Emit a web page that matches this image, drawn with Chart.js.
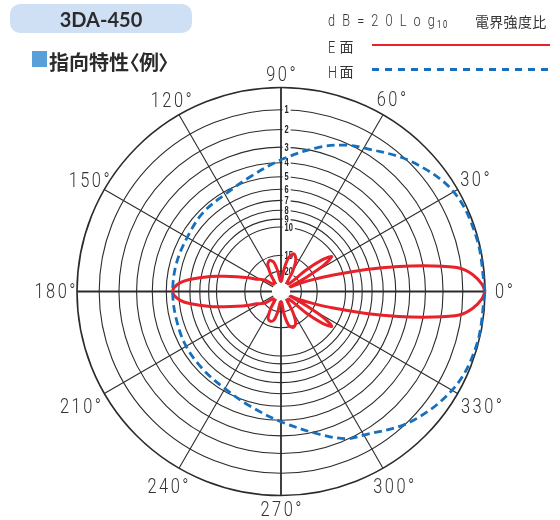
<!DOCTYPE html>
<html lang="ja">
<head>
<meta charset="utf-8">
<title>3DA-450 指向特性</title>
<script src="https://cdn.jsdelivr.net/npm/chart.js@4.4.1/dist/chart.umd.min.js"></script>
<style>
  html, body { margin: 0; padding: 0; background: #fff; }
  body { width: 560px; height: 520px; position: relative; overflow: hidden; }
  #chart { position: absolute; left: 0; top: 0; }
  .model {
    position: absolute; left: 10px; top: 4px; width: 182px; height: 29px;
    border-radius: 10px; background: #cfe0f5; color: #2b2b2b;
    font: 700 20px Lato, "Noto Sans", sans-serif;
    display: flex; align-items: center; justify-content: center;
  }
  .mark { position: absolute; left: 31.5px; top: 50.5px; width: 15px; height: 16px; background: #5b9fd9; }
  .heading {
    position: absolute; left: 49px; top: 47.3px; line-height: 20px; white-space: nowrap;
    font: 700 20px "Noto Sans CJK JP", sans-serif; color: #2b2b2b;
    font-feature-settings: "palt";
  }
  .lat {
    position: absolute; white-space: nowrap; color: #333;
    font: 300 17px Roboto, sans-serif; line-height: 17px;
    transform: scaleX(0.75); transform-origin: 0 0;
  }
  .cjk {
    position: absolute; white-space: nowrap; color: #333;
    font: 400 14px "Noto Sans CJK JP", sans-serif; line-height: 14px;
  }
  .swatch { position: absolute; left: 372px; width: 178px; }
</style>
</head>
<body>
<canvas id="chart" width="560" height="520"></canvas>

<div class="model">3DA-450</div>
<div class="mark"></div>
<div class="heading">指向特性〈例〉</div>

<div class="lat" style="left:328px; top:12.4px; letter-spacing:9.5px;">dB=20Log</div>
<div class="lat" style="left:436.5px; top:19.5px; font-size:10px; line-height:10px; letter-spacing:2.5px; font-weight:400;">10</div>
<div class="cjk" style="left:475px; top:13.6px; letter-spacing:0.3px;">電界強度比</div>

<div class="lat" style="left:328px; top:38.7px;">E</div>
<div class="cjk" style="left:339.5px; top:38.9px;">面</div>
<div class="swatch" style="top:43.5px; height:2.6px; background:#e8212b;"></div>

<div class="lat" style="left:328px; top:63.7px;">H</div>
<div class="cjk" style="left:339.5px; top:63.9px;">面</div>
<div class="swatch" style="top:68px; height:2.8px; background:repeating-linear-gradient(to right, #1670bd 0 7px, transparent 7px 13px);"></div>

<script>
// E-plane pattern: angle (deg, counter-clockwise from 0°) and level (dB below maximum)
const eAngle = [0, 2, 5, 7.5, 9.5, 12, 14.5, 17.5, 20.5, 23.5, 26,
  29, 31.5, 34.5, 37.5, 40.5, 44,
  55, 60, 65, 71, 77, 82, 87,
  94, 99, 104, 110, 116, 121, 127,
  138, 144, 148, 153, 157, 161.5, 165, 168, 172.5, 175, 178, 180,
  182, 185, 187.5, 192, 195, 198.5, 203, 207, 212, 216, 222,
  233, 239, 244, 250, 256, 261, 266,
  273, 278, 283, 289, 295, 300, 305,
  316, 319.5, 322.5, 325.5, 328.5, 331, 334,
  336.5, 339.5, 342.5, 345.5, 348, 350.5, 352.5, 355, 358, 360];
const eDb = [0, 0.12, 0.5, 1.1, 2.4, 4.6, 7.3, 11.4, 15.6, 20.2, 25.5,
  17.5, 12.3, 10.4, 11.9, 15.8, 25.5,
  25.5, 18.8, 15.3, 14.2, 15.3, 18.8, 25.5,
  25.5, 20, 16.6, 15.8, 16.6, 20, 25.5,
  25.5, 20.5, 19, 17.5, 15.3, 12.8, 10.8, 9.0, 6.9, 6.1, 5.6, 5.5,
  5.6, 6.1, 6.9, 9.0, 10.8, 12.8, 15.3, 17.5, 19, 20.5, 25.5,
  25.5, 20, 16.8, 16.2, 16.8, 20, 25.5,
  25.5, 18.8, 15.4, 14.6, 15.4, 18.8, 25.5,
  25.5, 15.8, 11.9, 10.4, 12.3, 17.5, 25.5,
  20.2, 15.6, 11.4, 7.3, 4.6, 2.4, 1.1, 0.5, 0.12, 0];

// H-plane pattern
const hAngle = [0, 15, 30, 45, 60, 66, 75, 90, 105, 120, 135, 150, 165, 180,
  195, 210, 225, 240, 255, 270, 285, 294, 300, 315, 331, 345, 360];
const hDb = [0, 0.05, 0.2, 0.9, 1.8, 2.1, 2.7, 3.8, 4.7, 5.2, 5.3, 5.5, 5.5, 5.5,
  5.5, 5.4, 5.35, 5.2, 4.7, 3.9, 2.8, 2.05, 1.8, 0.9, 0.25, 0.05, 0];

// Radial grid rings (dB) with their tick labels, and the angular grid
const ringDb = [1, 2, 3, 4, 5, 6, 7, 8, 9, 10, 15, 20];
const ringLabels = ['1', '2', '3', '4', '5', '6', '7', '8', '9', '10', '15', '20'];
const spokeAngles = [0, 30, 60, 90, 120, 150, 180, 210, 240, 270, 300, 330];
const angleLabels = ['0°', '30°', '60°', '90°', '120°', '150°', '180°', '210°', '240°', '270°', '300°', '330°'];
const centreDb = 27;

// gap between the outer ring and each angle label centre (px)
const angleLabelGap = [19, 20, 17, 12.5, 15.5, 17.5, 22, 27.5, 22, 14.5, 21.5, 27.5];

const RED = '#e8212b';
const BLUE = '#1670bd';
const GRID = '#2b2b2b';

// dB -> field strength ratio (dB = 20 log10 ratio)
const ratio = db => Math.pow(10, -db / 20);
const toXY = (angles, dbs) => angles.map((a, i) => {
  const r = ratio(dbs[i]);
  const t = a * Math.PI / 180;
  return { x: r * Math.cos(t), y: r * Math.sin(t) };
});

const polarGrid = {
  id: 'polarGrid',
  beforeDatasetsDraw(chart) {
    const { ctx, scales: { x, y } } = chart;
    const cx = x.getPixelForValue(0);
    const cy = y.getPixelForValue(0);
    const rad = v => x.getPixelForValue(v) - cx;
    const R = rad(1);
    ctx.save();
    ctx.strokeStyle = GRID;

    ctx.lineWidth = 1.1;
    ringDb.forEach(db => {
      ctx.beginPath();
      ctx.arc(cx, cy, rad(ratio(db)), 0, Math.PI * 2);
      ctx.stroke();
    });
    ctx.lineWidth = 1.6;
    ctx.beginPath();
    ctx.arc(cx, cy, R, 0, Math.PI * 2);
    ctx.stroke();

    spokeAngles.forEach(a => {
      const t = a * Math.PI / 180;
      ctx.lineWidth = a % 90 === 0 ? 1.8 : 1.1;
      ctx.beginPath();
      ctx.moveTo(cx, cy);
      ctx.lineTo(cx + R * Math.cos(t), cy - R * Math.sin(t));
      ctx.stroke();
    });

    // ring values along the 90° axis
    ctx.font = '700 11px "Liberation Sans", Arial, sans-serif';
    ctx.textBaseline = 'middle';
    ctx.textAlign = 'left';
    ringDb.forEach((db, i) => {
      const py = cy - rad(ratio(db));
      const w = ctx.measureText(ringLabels[i]).width * 0.68;
      ctx.fillStyle = '#fff';
      ctx.fillRect(cx + 1.5, py - 4.5, w + 4, 9);
      ctx.save();
      ctx.translate(cx + 3.5, py + 0.5);
      ctx.scale(0.68, 1);
      ctx.fillStyle = '#222';
      ctx.fillText(ringLabels[i], 0, 0);
      ctx.restore();
    });

    ctx.fillStyle = '#fff';
    ctx.beginPath();
    ctx.arc(cx, cy, rad(ratio(centreDb)), 0, Math.PI * 2);
    ctx.fill();
    ctx.restore();
  },
  afterDraw(chart) {
    const { ctx, scales: { x, y } } = chart;
    const cx = x.getPixelForValue(0);
    const cy = y.getPixelForValue(0);
    const R = x.getPixelForValue(1) - cx;
    ctx.save();
    ctx.fillStyle = '#333';
    ctx.font = '300 20px Roboto, sans-serif';
    ctx.textAlign = 'center';
    ctx.textBaseline = 'middle';
    if ('letterSpacing' in ctx) ctx.letterSpacing = '3px';
    spokeAngles.forEach((a, i) => {
      const t = a * Math.PI / 180;
      const d = R + angleLabelGap[i];
      ctx.save();
      ctx.translate(cx + d * Math.cos(t) + 1.2, cy - d * Math.sin(t) + 1);
      ctx.scale(0.82, 1);
      ctx.fillText(angleLabels[i], 0, 0);
      ctx.restore();
    });
    ctx.restore();
  }
};

new Chart(document.getElementById('chart'), {
  type: 'scatter',
  data: {
    datasets: [
      {
        label: 'H面', data: toXY(hAngle, hDb), showLine: true,
        borderColor: BLUE, borderWidth: 2.8, borderDash: [8, 4.5],
        pointRadius: 0, tension: 0.35, fill: false, clip: false
      },
      {
        label: 'E面', data: toXY(eAngle, eDb), showLine: true,
        borderColor: RED, borderWidth: 3, borderJoinStyle: 'round',
        pointRadius: 0, tension: 0.3, fill: false, clip: false
      }
    ]
  },
  options: {
    responsive: false,
    animation: false,
    devicePixelRatio: 1,
    events: [],
    layout: { padding: { left: 77, right: 75, top: 87.5, bottom: 24.5 } },
    scales: {
      x: { type: 'linear', min: -1, max: 1, display: false },
      y: { type: 'linear', min: -1, max: 1, display: false }
    },
    plugins: { legend: { display: false }, tooltip: { enabled: false } }
  },
  plugins: [polarGrid]
});
</script>
</body>
</html>
